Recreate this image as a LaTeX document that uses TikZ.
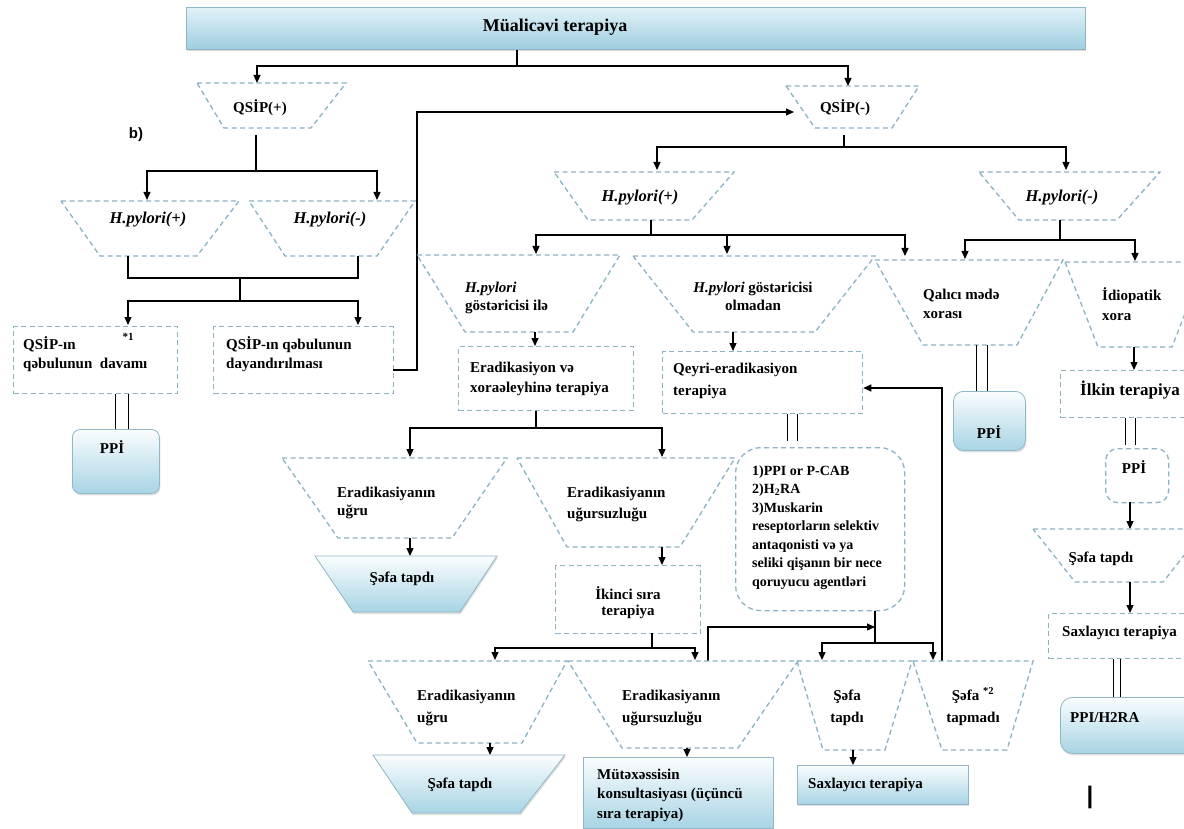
\documentclass[tikz,border=0pt]{standalone}
\usepackage{fontspec}
\setmainfont{Liberation Serif}
\newfontfamily\sansbf{Liberation Sans}
\usetikzlibrary{arrows.meta,shadows}
\definecolor{dashc}{RGB}{140,178,196}
\definecolor{gtop}{RGB}{250,253,254}
\definecolor{gbot}{RGB}{168,212,228}
\definecolor{gedge}{RGB}{145,182,198}
\definecolor{btop}{RGB}{226,242,248}
\definecolor{bbot}{RGB}{158,205,223}
\tikzset{
  dbox/.style={draw=dashc, line width=1.3pt, dash pattern=on 5pt off 3.5pt},
  rbox/.style={dbox, inner sep=0pt, anchor=north west},
  gfill/.style={draw=gedge, line width=0.8pt, top color=gtop, bottom color=gbot,
     drop shadow={opacity=0.25, shadow xshift=1pt, shadow yshift=-2pt}},
  gbox/.style={gfill, inner sep=0pt, anchor=north west},
  banner/.style={draw=gedge, line width=0.8pt, top color=btop, bottom color=bbot,
     drop shadow={opacity=0.3, shadow xshift=1pt, shadow yshift=-2pt}, inner sep=0pt, anchor=north west},
  conn/.style={draw=black, line width=1.2pt},
  arr/.style={conn, -{Triangle[length=8pt,width=7pt]}},
  dbl/.style={draw=black, line width=1pt},
  lab/.style={font=\fontsize{15}{19}\selectfont\bfseries, inner sep=0pt, align=left},
  labc/.style={lab, align=center, anchor=base},
  labw/.style={lab, anchor=base west},
  hpl/.style={labc, font=\fontsize{16.5}{19}\selectfont\bfseries},
}
\newcommand\mytrap[8]{% style, name, ytop, ybot, xtl, xtr, xbl, xbr
  \draw[#1] (#5,#3) coordinate (#2-tl) -- (#6,#3) coordinate (#2-tr)
     -- (#8,#4) coordinate (#2-br) -- (#7,#4) coordinate (#2-bl) -- cycle;}
\begin{document}
\begin{tikzpicture}[x=1pt,y=-1pt]
\useasboundingbox (0,0) rectangle (1184,829);
\fill[white] (0,0) rectangle (1184,829);

% ---------- banner ----------
\node[banner, minimum width=899pt, minimum height=42pt] (ban) at (186,7) {};
\node[labc, font=\fontsize{18}{22}\selectfont\bfseries] (title) at (555,32) {Müalicəvi terapiya};
\coordinate (b0) at (517,66);
\coordinate (qpTip) at (257,83);
\coordinate (qmTip) at (848,86);
\draw[conn] (ban.south -| b0) -- (b0);
\draw[arr] (b0) -| (qpTip);
\draw[arr] (b0) -| (qmTip);

% ---------- left branch ----------
\mytrap{dbox}{qp}{83}{128}{197}{346}{224}{311}
\node[labc] (qpT) at (260,113) {QSİP(+)};
\node[font=\sansbf\bfseries\fontsize{15}{18}\selectfont, anchor=base, inner sep=0pt] (blab) at (136,139) {b)};
\coordinate (qpS) at (256,135);
\coordinate (qpJ) at (256,171);
\coordinate (hplTip) at (147,200);
\coordinate (hmlTip) at (377,200);
\draw[conn] (qpS) -- (qpJ);
\draw[arr] (qpJ) -| (hplTip);
\draw[arr] (qpJ) -| (hmlTip);

\mytrap{dbox}{hpl}{201}{256}{61}{239}{100}{197}
\mytrap{dbox}{hml}{201}{256}{249}{415}{285}{377}
\node[hpl] (hplT) at (148,224) {\textit{H.pylori(+)}};
\node[hpl] (hmlT) at (330,224) {\textit{H.pylori(-)}};

\coordinate (l1) at (128,256); \coordinate (l1b) at (128,278);
\coordinate (l2) at (358,256); \coordinate (l2b) at (358,278);
\coordinate (l3) at (240,278); \coordinate (l3b) at (240,301);
\coordinate (l4) at (128,325); \coordinate (l5) at (358,325);
\draw[conn] (l1) -- (l1b) -- (l2b) -- (l2);
\draw[conn] (l3) -- (l3b);
\draw[arr] (l3b) -| (l4);
\draw[arr] (l3b) -| (l5);

\node[rbox, minimum width=164pt, minimum height=67pt] (L1) at (13,326) {};
\node[labw] (L1T) at (23,368) {QSİP-ın\\qəbulunun\ \ davamı};
\node[font=\fontsize{11}{13}\selectfont\bfseries, anchor=base, inner sep=0pt] (s1) at (128,341) {*1};
\node[rbox, minimum width=180pt, minimum height=67pt] (L2) at (213,326) {};
\node[labw] (L2T) at (226,368) {QSİP-ın qəbulunun\\dayandırılması};

\node[gbox, rounded corners=8pt, minimum width=87pt, minimum height=64pt] (ppiL) at (72,429) {};
\node[labc] (ppiLT) at (112,453) {PPİ};
\coordinate (d1) at (115,0); \coordinate (d2) at (128,0);
\draw[dbl] (L1.south -| d1) -- (ppiL.north -| d1);
\draw[dbl] (L1.south -| d2) -- (ppiL.north -| d2);

\coordinate (v0) at (393,370); \coordinate (v1) at (417,370);
\coordinate (v2) at (417,112); \coordinate (qmIn) at (794,112);
\draw[arr] (v0) -- (v1) -- (v2) -- (qmIn);

% ---------- QSIP(-) ----------
\mytrap{dbox}{qm}{86}{128}{786}{919}{815}{892}
\node[labc] (qmT) at (845,113) {QSİP(-)};
\coordinate (qmS) at (844,135); \coordinate (qmJ) at (844,147);
\coordinate (hprTip) at (657,170); \coordinate (hmrTip) at (1066,170);
\draw[conn] (qmS) -- (qmJ);
\draw[arr] (qmJ) -| (hprTip);
\draw[arr] (qmJ) -| (hmrTip);

\mytrap{dbox}{hpr}{172}{220}{554}{734}{588}{692}
\mytrap{dbox}{hmr}{172}{220}{979}{1160}{1019}{1117}
\node[hpl] (hprT) at (640,202) {\textit{H.pylori(+)}};
\node[hpl] (hmrT) at (1062,202) {\textit{H.pylori(-)}};

\coordinate (p0) at (651,220); \coordinate (pJ) at (651,235);
\coordinate (pt1) at (536,254); \coordinate (pt2) at (727,254); \coordinate (pt3) at (905,256);
\draw[conn] (p0) -- (pJ);
\draw[arr] (pJ) -| (pt1);
\draw[arr] (pJ) -| (pt2);
\draw[arr] (pJ) -| (pt3);
\coordinate (m0) at (1060,220); \coordinate (mJ) at (1060,240);
\coordinate (mt1) at (965,259); \coordinate (mt2) at (1135,261);
\draw[conn] (m0) -- (mJ);
\draw[arr] (mJ) -| (mt1);
\draw[arr] (mJ) -| (mt2);

% ---------- second level ----------
\mytrap{dbox}{g1}{255}{332}{417}{620}{465}{573}
\node[labw] (g1T) at (465,311) {\textit{H.pylori}\\göstəricisi ilə};
\mytrap{dbox}{g2}{256}{332}{633}{875}{693}{815}
\node[labc] (g2T) at (753,311) {\textit{H.pylori} göstəricisi\\olmadan};
\mytrap{dbox}{qa}{260}{345}{875}{1063}{923}{1017}
\node[labw, font=\fontsize{15}{18}\selectfont\bfseries] (qaT) at (923,318) {Qalıcı mədə\\xorası};
\mytrap{dbox}{id}{262}{347}{1065}{1205}{1098}{1172}
\node[labw, font=\fontsize{15}{20}\selectfont\bfseries] (idT) at (1102,320) {İdiopatik\\xora};

\node[rbox, minimum width=175pt, minimum height=64pt] (E1) at (458,346) {};
\node[labw, font=\fontsize{15}{20}\selectfont\bfseries] (E1T) at (470,392) {Eradikasiyon və\\xoraəleyhinə terapiya};
\coordinate (g1b) at (535,332);
\draw[arr] (g1b) -- (E1.north -| g1b);

\node[rbox, minimum width=200pt, minimum height=62pt] (QE) at (662,351) {};
\node[labw, font=\fontsize{15}{22}\selectfont\bfseries] (QET) at (673,395) {Qeyri-eradikasiyon\\terapiya};
\coordinate (g2b) at (733,332);
\draw[arr] (g2b) -- (QE.north -| g2b);

\node[gbox, rounded corners=10pt, minimum width=72pt, minimum height=59pt] (ppiQ) at (953,391) {};
\node[labc] (ppiQT) at (989,438) {PPİ};
\coordinate (d3) at (976,345); \coordinate (d4) at (987,345);
\draw[dbl] (d3) -- (ppiQ.north -| d3);
\draw[dbl] (d4) -- (ppiQ.north -| d4);

\node[rbox, minimum width=145pt, minimum height=47pt] (IL) at (1060,370) {};
\node[labw, font=\fontsize{17}{20}\selectfont\bfseries] (ILT) at (1080,395) {İlkin terapiya};
\coordinate (idb) at (1134,347);
\draw[arr] (idb) -- (IL.north -| idb);

\node[rbox, rounded corners=12pt, minimum width=63pt, minimum height=54pt] (ppiD) at (1105,448) {};
\node[labc] (ppiDT) at (1134,473) {PPİ};
\coordinate (d5) at (1125,0); \coordinate (d6) at (1135,0);
\draw[dbl] (IL.south -| d5) -- ([yshift=3pt]ppiD.north -| d5);
\draw[dbl] (IL.south -| d6) -- ([yshift=3pt]ppiD.north -| d6);

\coordinate (pdb) at (1130,502); \coordinate (sfrt) at (1130,529);
\draw[arr] (pdb) -- (sfrt);
\mytrap{dbox}{sfr}{529}{582}{1033}{1205}{1075}{1163}
\node[labc] (sfrT) at (1101,562) {Şəfa tapdı};

\node[rbox, minimum width=160pt, minimum height=45pt] (SR) at (1048,613) {};
\node[labw] (SRT) at (1062,636) {Saxlayıcı terapiya};
\coordinate (sfrb) at (1130,582);
\draw[arr] (sfrb) -- (SR.north -| sfrb);

\node[gbox, rounded corners=12pt, minimum width=150pt, minimum height=56pt] (H2) at (1060,697) {};
\node[labw] (H2T) at (1070,722) {PPI/H2RA};
\coordinate (d7) at (1113,0); \coordinate (d8) at (1120,0);
\draw[dbl] (SR.south -| d7) -- (H2.north -| d7);
\draw[dbl] (SR.south -| d8) -- (H2.north -| d8);

% ---------- eradication branch ----------
\coordinate (e0) at (536,410); \coordinate (eJ) at (536,428);
\coordinate (et1) at (410,457); \coordinate (et2) at (662,457);
\draw[conn] (E1.south -| e0) -- (eJ);
\draw[arr] (eJ) -| (et1);
\draw[arr] (eJ) -| (et2);

\mytrap{dbox}{eu1}{458}{538}{282}{507}{338}{452}
\node[labw, font=\fontsize{15}{18}\selectfont\bfseries] (eu1T) at (337,515) {Eradikasiyanın\\uğru};
\mytrap{dbox}{ef1}{458}{547}{517}{735}{567}{680}
\node[labw, font=\fontsize{15}{21}\selectfont\bfseries] (ef1T) at (567,518) {Eradikasiyanın\\uğursuzluğu};

\coordinate (eu1b) at (410,538); \coordinate (sf1t) at (410,556);
\draw[arr] (eu1b) -- (sf1t);
\mytrap{gfill}{sf1}{556}{612}{315}{497}{353}{460}
\node[labc] (sf1T) at (402,582) {Şəfa tapdı};

\node[rbox, minimum width=145pt, minimum height=68pt] (IK) at (555,565) {};
\node[labc, font=\fontsize{15}{16}\selectfont\bfseries] (IKT) at (628,615) {İkinci sıra\\terapiya};
\coordinate (ef1b) at (662,547);
\draw[arr] (ef1b) -- (IK.north -| ef1b);

\node[rbox, rounded corners=25pt, minimum width=169pt, minimum height=163pt] (R) at (735,447) {};
\node[labw, font=\fontsize{14}{18.5}\selectfont\bfseries] (RT) at (752,586)
  {1)PPI or P-CAB\\2)H\textsubscript{2}RA\\3)Muskarin\\reseptorların selektiv\\antaqonisti və ya\\seliki qişanın bir nece\\qoruyucu agentləri};
\coordinate (d9) at (787,0); \coordinate (d10) at (797,0);
\draw[dbl] (QE.south -| d9) -- ([yshift=6pt]R.north -| d9);
\draw[dbl] (QE.south -| d10) -- ([yshift=6pt]R.north -| d10);

\coordinate (rJ) at (875,643);
\coordinate (rA) at (875,627);
\coordinate (st1) at (822,660); \coordinate (st2) at (933,660);
\draw[conn] (R.south -| rJ) -- (rJ);
\draw[arr] (rJ) -| (st1);
\draw[arr] (rJ) -| (st2);
\coordinate (f0) at (708,661); \coordinate (f1) at (708,627);
\draw[arr] (f0) -- (f1) -- (rA);
\coordinate (n0) at (942,661); \coordinate (n1) at (942,388);
\draw[arr] (n0) -- (n1) -- (QE.east |- n1);

% ---------- second-line branch ----------
\coordinate (k0) at (652,633); \coordinate (kJ) at (652,648);
\coordinate (kt1) at (495,660); \coordinate (kt2) at (695,660);
\draw[conn] (k0) -- (kJ);
\draw[arr] (kJ) -| (kt1);
\draw[arr] (kJ) -| (kt2);

\mytrap{dbox}{eu2}{661}{743}{368}{567}{417}{522}
\node[labw, font=\fontsize{15}{22}\selectfont\bfseries] (eu2T) at (417,722) {Eradikasiyanın\\uğru};
\mytrap{dbox}{ef2}{661}{748}{568}{798}{622}{738}
\node[labw, font=\fontsize{15}{22}\selectfont\bfseries] (ef2T) at (622,722) {Eradikasiyanın\\uğursuzluğu};
\mytrap{dbox}{st}{661}{750}{797}{912}{823}{885}
\node[labc, font=\fontsize{15}{22}\selectfont\bfseries] (stT) at (847,722) {Şəfa\\tapdı};
\mytrap{dbox}{stm}{661}{750}{913}{1033}{942}{1007}
\node[labc, font=\fontsize{15}{22}\selectfont\bfseries] (stmT) at (973,722) {Şəfa \textsuperscript{*2}\\tapmadı};

\coordinate (eu2b) at (490,743); \coordinate (sf2t) at (490,755);
\draw[arr] (eu2b) -- (sf2t);
\mytrap{gfill}{sf2}{755}{813}{373}{565}{412}{520}
\node[labc] (sf2T) at (460,788) {Şəfa tapdı};

\node[gbox, minimum width=190pt, minimum height=71pt] (M) at (583,757) {};
\node[labw, font=\fontsize{15}{19.5}\selectfont\bfseries] (MT) at (597,818) {Mütəxəssisin\\konsultasiyası (üçüncü\\sıra terapiya)};
\coordinate (ef2b) at (687,748);
\draw[arr] (ef2b) -- (M.north -| ef2b);

\node[gbox, minimum width=171pt, minimum height=39pt] (SX) at (797,765) {};
\node[labw] (SXT) at (808,788) {Saxlayıcı terapiya};
\coordinate (stb) at (853,750);
\draw[arr] (stb) -- (SX.north -| stb);

\node[font=\sansbf\bfseries\fontsize{24}{24}\selectfont, inner sep=0pt] (bar) at (1090,797) {|};
\end{tikzpicture}
\end{document}
